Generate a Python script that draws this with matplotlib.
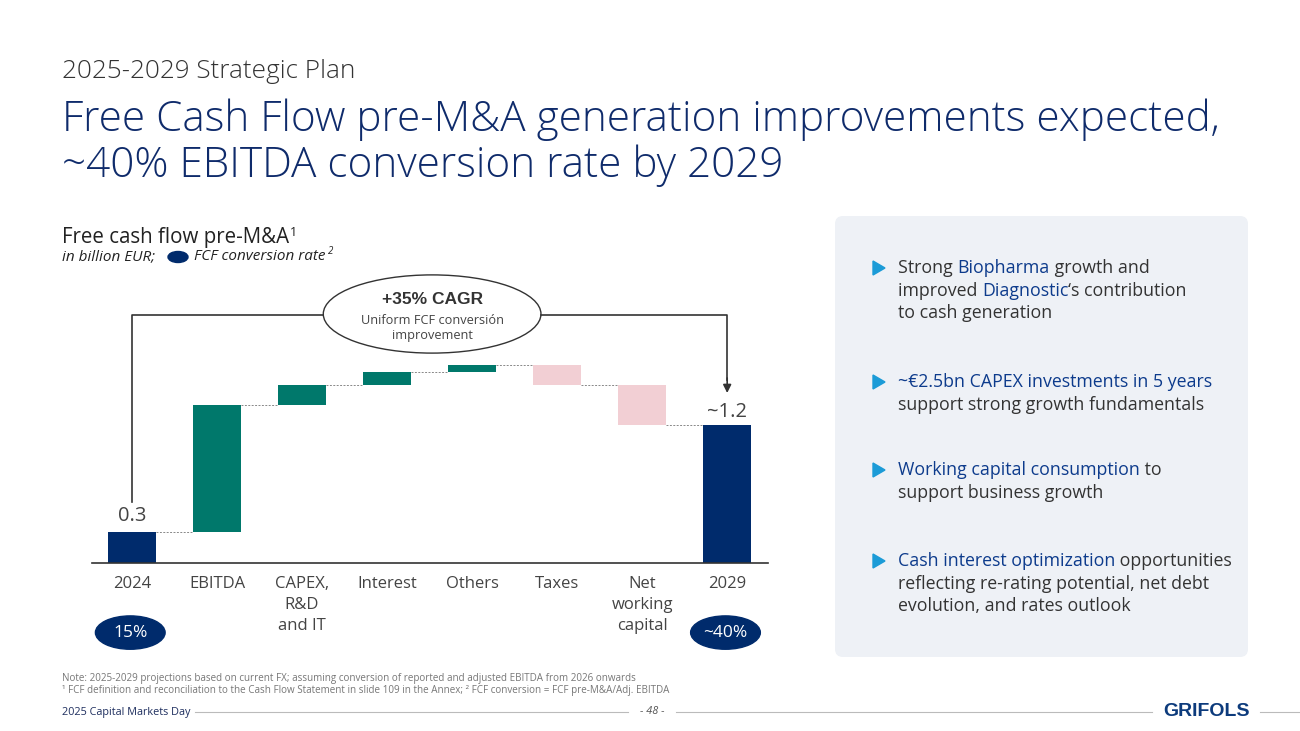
import matplotlib
matplotlib.use("Agg")
import matplotlib.pyplot as plt
from matplotlib.patches import Ellipse, FancyBboxPatch, Polygon

plt.rcParams['font.family'] = ['Open Sans', 'DejaVu Sans']

# data
categories = ["2024", "EBITDA", "CAPEX,\nR&D\nand IT", "Interest", "Others", "Taxes",
              "Net\nworking\ncapital", "2029"]
start_value = 0.27
steps = [1.10, 0.18, 0.11, 0.06, -0.17, -0.35]
end_label = "~1.2"
start_label = "0.3"
conversion = ["15%", "~40%"]

NAVY = "#002b6c"
TEAL = "#00786b"
PINK = "#f2cfd4"
GREY = "#444444"
BLUE_TXT = "#0d3b8c"
lab_font = ["Liberation Sans Narrow", "Open Sans", "DejaVu Sans"]

fig = plt.figure(figsize=(13, 7.31), dpi=100)
bg = fig.add_axes([0, 0, 1, 1])
bg.set_xlim(0, 1300)
bg.set_ylim(731, 0)
bg.axis("off")

# header
bg.text(62, 71, "2025-2029 Strategic Plan", fontsize=18.8, color="#333333", va="center",
        fontweight="light")
bg.text(62, 120, "Free Cash Flow pre-M&A generation improvements expected,", fontsize=30.4,
        color="#0f2b6b", va="center", fontweight="light")
bg.text(62, 166, "~40% EBITDA conversion rate by 2029", fontsize=30.4,
        color="#0f2b6b", va="center", fontweight="light")

bg.text(62, 238, "Free cash flow pre-M&A", fontsize=14.8, color="#222222", va="center")
bg.text(290, 232, "1", fontsize=9, color="#222222", va="center")
bg.text(62, 257, "in billion EUR;", fontsize=11, color="#222222", va="center", style="italic")
bg.add_patch(Ellipse((178, 257), 20, 11, color=NAVY))
bg.text(194, 257, "FCF conversion rate", fontsize=11, color="#222222", va="center", style="italic")
bg.text(328, 252, "2", fontsize=7, color="#222222", va="center", style="italic")

# chart axes: baseline at y=563 px, 115 px per unit, bars 85 px apart (first at x=132)
ax = fig.add_axes([92 / 1300, (731 - 563) / 731, (768 - 92) / 1300, (563 - 270) / 731])
ax.set_xlim(-0.47, 7.48)
ax.set_ylim(0, (563 - 270) / 115)
for s in ["top", "right", "left"]:
    ax.spines[s].set_visible(False)
ax.spines["bottom"].set_color("#333333")
ax.spines["bottom"].set_linewidth(1.2)
ax.set_yticks([])
ax.set_xticks(range(len(categories)))
ax.set_xticklabels(categories, fontsize=12, color=GREY, family=lab_font,
                   linespacing=1.42, va="top")
ax.tick_params(axis="x", length=0, pad=9)

w = 0.565
ax.bar(0, start_value, width=w, color=NAVY)
level = start_value
for i, s in enumerate(steps, start=1):
    col = TEAL if s > 0 else PINK
    ax.bar(i, s, bottom=level, width=w, color=col)
    ax.plot([i - 1 + w / 2, i - w / 2], [level, level], ls=(0, (2, 1.5)), color="#888888", lw=0.7)
    level += s
n = len(categories) - 1
ax.plot([n - 1 + w / 2, n - w / 2], [level, level], ls=(0, (2, 1.5)), color="#888888", lw=0.7)
ax.bar(n, level, width=w, color=NAVY)

ax.text(0, start_value + 0.05, start_label, ha="center", va="bottom", fontsize=14.5, color=GREY, family=lab_font)
ax.text(n, level + 0.03, end_label, ha="center", va="bottom", fontsize=14.5, color=GREY, family=lab_font)

# conversion bubbles
for x, t in zip([0, n], conversion):
    ax.add_patch(Ellipse((x - 0.02, -0.605), 0.82, 0.29, color=NAVY, clip_on=False))
    ax.text(x - 0.02, -0.605, t, ha="center", va="center", fontsize=12.5, color="white",
            family=lab_font, clip_on=False)

# CAGR bracket
yb = (563 - 315) / 115
ex, ey, ew, eh = 3.53, (563 - 314) / 115, 2.56, 0.68
ax.plot([0, 0, ex - ew / 2], [(563 - 502) / 115, yb, yb], color="#333333", lw=1.2, clip_on=False)
ax.plot([ex + ew / 2, n, n], [yb, yb, (563 - 380) / 115], color="#333333", lw=1.2, clip_on=False)
ax.annotate("", xy=(n, (563 - 393) / 115), xytext=(n, (563 - 378) / 115),
            arrowprops=dict(arrowstyle="-|>", color="#333333", lw=1.2, mutation_scale=12,
                            shrinkA=0, shrinkB=0),
            annotation_clip=False)
ax.add_patch(Ellipse((ex, ey), ew, eh, facecolor="white", edgecolor="#333333", lw=1.0, clip_on=False))
ax.text(ex, ey + 0.13, "+35% CAGR", ha="center", va="center", fontsize=12.5, fontweight="bold",
        color="#333333", family=["Liberation Sans", "DejaVu Sans"])
ax.text(ex, ey - 0.06, "Uniform FCF conversión", ha="center", va="center", fontsize=9.2,
        color=GREY, family=lab_font)
ax.text(ex, ey - 0.19, "improvement", ha="center", va="center", fontsize=9.2,
        color=GREY, family=lab_font)

# right panel
bg.add_patch(FancyBboxPatch((835, 216), 413, 441, boxstyle="round,pad=0,rounding_size=8",
                            facecolor="#eef1f6", edgecolor="none"))

renderer = fig.canvas.get_renderer()


def rich_line(x, y, parts, size=12.8):
    for txt, color, weight in parts:
        t = bg.text(x, y, txt, fontsize=size, color=color, fontweight=weight, va="center", ha="left")
        bb = t.get_window_extent(renderer=renderer)
        x += bb.width


D = "#333333"
bullets = [
    (268, [[("Strong ", D, "normal"), ("Biopharma", BLUE_TXT, "normal"), (" growth and", D, "normal")],
           [("improved ", D, "normal"), ("Diagnostic", BLUE_TXT, "normal"), ("‘s contribution", D, "normal")],
           [("to cash generation", D, "normal")]]),
    (382, [[("~€2.5bn CAPEX investments in 5 years", BLUE_TXT, "normal")],
           [("support strong growth fundamentals", D, "normal")]]),
    (470, [[("Working capital consumption", BLUE_TXT, "normal"), (" to", D, "normal")],
           [("support business growth", D, "normal")]]),
    (561, [[("Cash interest optimization", BLUE_TXT, "normal"), (" opportunities", D, "normal")],
           [("reflecting re-rating potential, net debt", D, "normal")],
           [("evolution, and rates outlook", D, "normal")]]),
]
for y0, lines in bullets:
    bg.add_patch(Polygon([[873, y0 - 7], [873, y0 + 7], [885, y0]], color="#1b9bd7"))
    for k, parts in enumerate(lines):
        rich_line(898, y0 + k * 22.6, parts)

# footnotes and footer
bg.text(62, 678, "Note: 2025-2029 projections based on current FX; assuming conversion of reported and "
        "adjusted EBITDA from 2026 onwards", fontsize=7.1, color="#777777", va="center")
bg.text(62, 691, "¹ FCF definition and reconciliation to the Cash Flow Statement in slide 109 in the Annex; "
        "² FCF conversion = FCF pre-M&A/Adj. EBITDA", fontsize=7.1, color="#777777", va="center")
bg.text(62, 712, "2025 Capital Markets Day", fontsize=7.8, color="#1f2f5f", va="center")
bg.plot([195, 628], [712, 712], color="#bbbbbb", lw=0.8)
bg.text(652, 712, "- 48 -", fontsize=7.8, color="#555555", va="center", ha="center", style="italic")
bg.plot([676, 1152], [712, 712], color="#bbbbbb", lw=0.8)
bg.text(1206, 712, "GRIFOLS", fontsize=14, color="#0d3b7c", va="center", ha="center",
        fontweight="bold", family=["Liberation Sans", "DejaVu Sans"])
bg.plot([1260, 1300], [712, 712], color="#bbbbbb", lw=0.8)

fig.savefig("out.png", dpi=100)
